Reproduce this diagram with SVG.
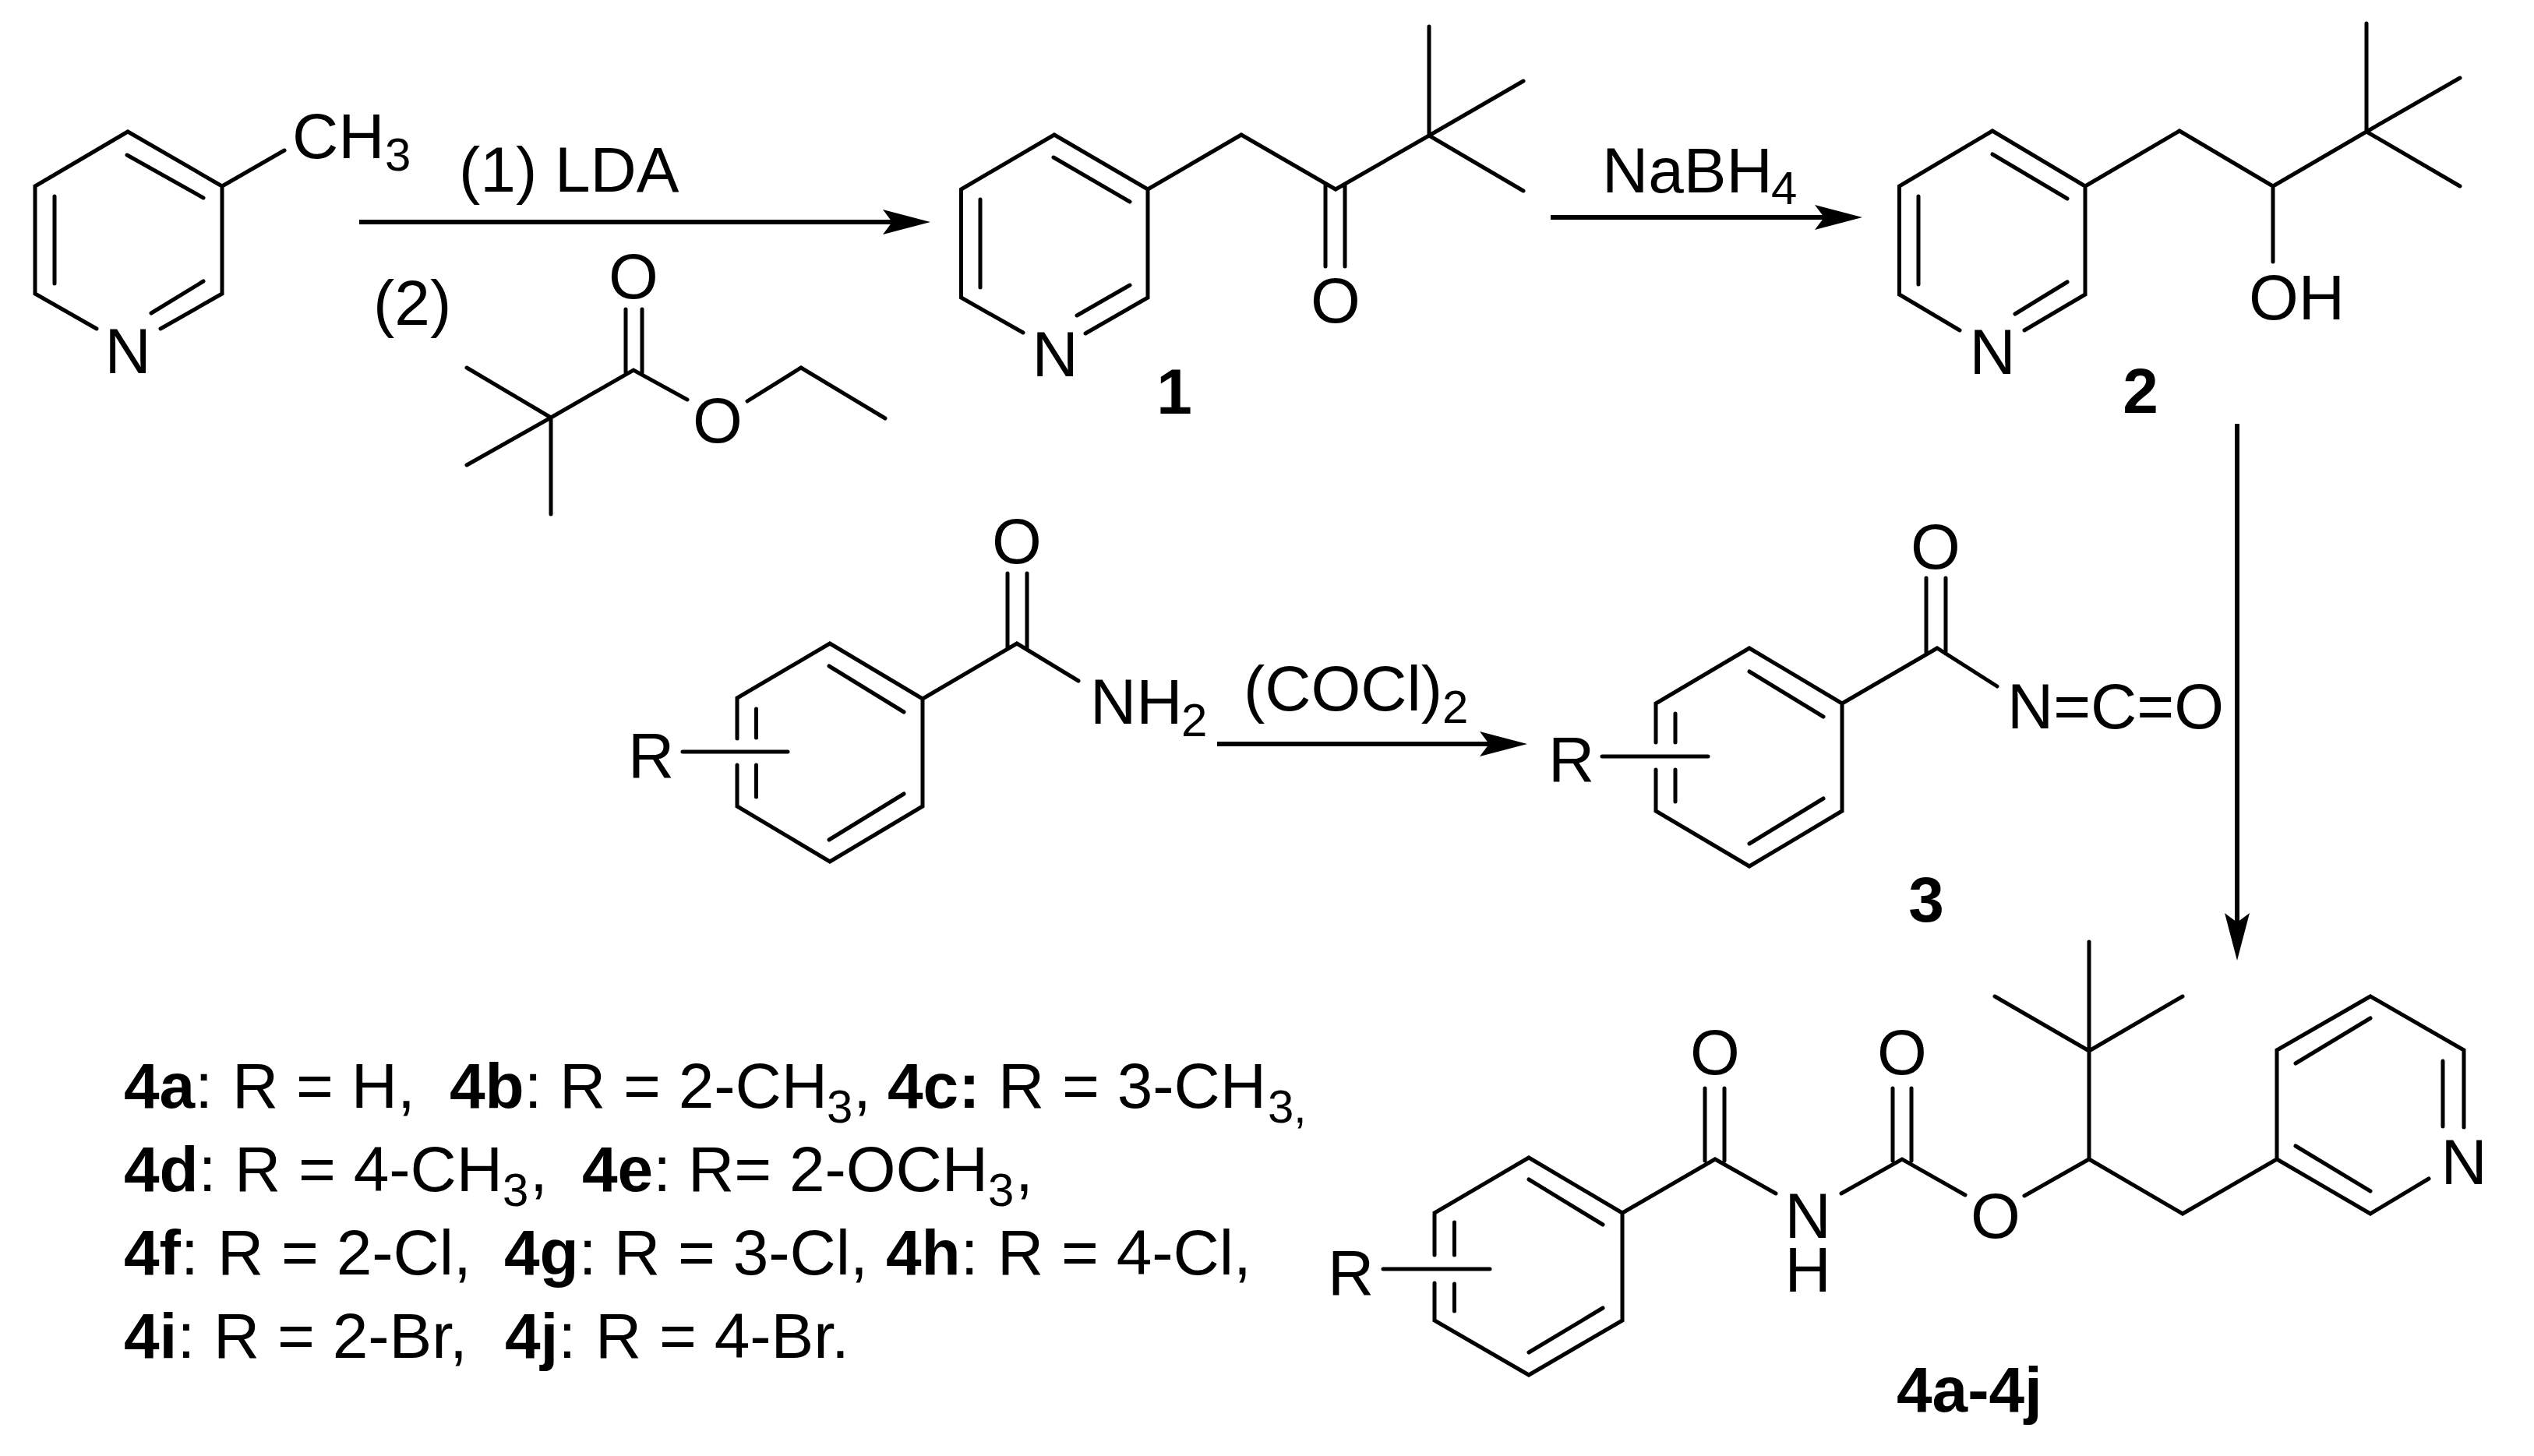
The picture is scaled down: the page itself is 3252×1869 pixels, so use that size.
<svg xmlns="http://www.w3.org/2000/svg" width="3252" height="1869" viewBox="0 0 3252 1869">
<style>
text{font-family:"Liberation Sans",Arial,sans-serif;font-size:82px;fill:#000}
.s{font-size:60px}
.bd{font-weight:bold}
.m{text-anchor:middle}
.bond{fill:none;stroke:#000;stroke-width:5;stroke-linecap:round;stroke-linejoin:miter}
.arrow{fill:none;stroke:#000;stroke-width:6}
</style>
<defs>
<marker id="head" markerUnits="userSpaceOnUse" markerWidth="62" markerHeight="32" viewBox="0 0 61 32" refX="12" refY="16" orient="auto"><polygon points="0,0 61,16 0,32 12,16" fill="#000"/></marker>
</defs>
<rect width="3252" height="1869" fill="#fff"/>
<g id="connectors">
<line class="arrow" x1="461" y1="285" x2="1145" y2="285" marker-end="url(#head)"/>
<line class="arrow" x1="1990" y1="279" x2="2341" y2="279" marker-end="url(#head)"/>
<line class="arrow" x1="1562" y1="955" x2="1911" y2="955" marker-end="url(#head)"/>
<line class="arrow" x1="2871" y1="544" x2="2871" y2="1184" marker-end="url(#head)"/>
</g>
<g id="picoline">
<path class="bond" d="M124,422L45,377V239L164,169L285,239V377L206,422M194,402L261,361M163,199L261,254M70,252V364M285,239L365,193"/>
<text class="m" x="164" y="479">N</text>
<text x="375" y="203">CH</text><text class="s" x="494" y="219">3</text>
</g>
<g id="reagent-lda"><text x="589" y="246">(1) LDA</text></g>
<g id="reagent-ester">
<text x="479" y="417">(2)</text>
<text class="m" x="813" y="383">O</text>
<path class="bond" d="M803,397V478M824,397V478M599,472L707,536L813,475L882,513M599,597L707,536V660M959,515L1028,472L1136,537"/>
<text class="m" x="921" y="568">O</text>
</g>
<g id="compound-1">
<path class="bond" d="M1313,427L1233.500,382V243L1353,173L1473,243V382L1393,428M1382,405L1450,366M1352,202L1450,259M1258,256V369M1473,243L1593,173L1714,243L1834,174L1955,104M1834,34V174L1955,245M1701,237V342M1726,237V342"/>
<text class="m" x="1354" y="483">N</text>
<text class="m" x="1714" y="414">O</text>
<text class="bd m" x="1507" y="531">1</text>
</g>
<g id="reagent-nabh4"><text x="2056" y="247">NaBH</text><text class="s" x="2273" y="262">4</text></g>
<g id="compound-2">
<path class="bond" d="M2515,424L2437.500,378V239L2557,168L2676,239V378L2598,424M2586,403L2653,362M2557,198L2653,255M2462,252V365M2676,239L2797,168L2917,239L3037,169L3157,100M3037,30V169L3157,239M2917,239V336"/>
<text class="m" x="2557" y="480">N</text>
<text x="2886" y="410">OH</text>
<text class="bd m" x="2747" y="530">2</text>
</g>
<g id="benzamide">
<path class="bond" d="M946,948V896L1065,826L1184,897V1035L1065,1106L946,1035V982M1064,855L1160,914M1064,1078L1160,1019M970.500,910V947M970.500,982V1023M1184,897L1305,826L1384,874M1293,736V833M1318,736V833M876,965H1011"/>
<text x="806" y="998">R</text>
<text class="m" x="1305" y="723">O</text>
<text x="1399" y="929">NH</text><text class="s" x="1516" y="945">2</text>
</g>
<g id="reagent-oxalyl"><text x="1596" y="912">(COCl)</text><text class="s" x="1851" y="928">2</text></g>
<g id="compound-3">
<path class="bond" d="M2125,953V903L2245,832L2364,903V1041L2245,1112L2125,1041V988M2245,862L2340,920M2245,1083L2340,1025M2150,916V953M2150,988V1029M2364,903L2486,832L2563,881M2472,742V839M2497,742V839M2056,971H2192"/>
<text x="1987" y="1003">R</text>
<text class="m" x="2484" y="730">O</text>
<text x="2576" y="935">N=C=O</text>
<text class="bd m" x="2472" y="1183">3</text>
</g>
<g id="compound-4">
<path class="bond" d="M1841,1611V1557L1962,1486L2082,1557V1695L1962,1765L1841,1695V1647M1962,1514L2057,1572M1962,1736L2057,1679M1866.500,1569V1611M1866.500,1648V1683M2082,1557L2201,1488L2279,1532M2188,1397V1490M2213,1397V1490M2363,1532L2441,1488L2522,1534M2429,1397V1490M2453,1397V1490M2598,1535L2681,1488L2801,1558L2922,1488V1348L3042,1279L3162,1348V1447M3117,1513L3042,1558L2922,1488M3135,1362V1446M2946,1365L3042,1307M2946,1471L3042,1529M2681,1488V1209M2560,1279L2681,1349L2801,1279M1775,1629H1912"/>
<text x="1704" y="1662">R</text>
<text class="m" x="2201" y="1379">O</text>
<text class="m" x="2441" y="1379">O</text>
<text class="m"><tspan x="2320" y="1589">N</tspan><tspan x="2320" y="1658">H</tspan></text>
<text class="m" x="2561" y="1589">O</text>
<text class="m" x="3162" y="1520">N</text>
<text class="bd" x="2434" y="1812">4a-4j</text>
</g>
<g id="legend">
<text y="1422"><tspan class="bd" x="159">4a</tspan><tspan>:</tspan><tspan x="298">R = H,</tspan><tspan class="bd" x="577">4b</tspan><tspan>:</tspan><tspan x="718">R = 2-CH</tspan></text>
<text class="s" x="1061" y="1441">3</text><text x="1095" y="1422">,</text>
<text y="1422"><tspan class="bd" x="1139">4c:</tspan><tspan x="1281">R = 3-CH</tspan></text>
<text class="s" x="1627" y="1441">3</text><text class="s" x="1660" y="1441">,</text>
<text y="1529"><tspan class="bd" x="159">4d</tspan><tspan>:</tspan><tspan x="301">R = 4-CH</tspan></text>
<text class="s" x="645" y="1548">3</text><text x="680" y="1529">,</text>
<text y="1529"><tspan class="bd" x="747">4e</tspan><tspan>:</tspan><tspan x="883">R= 2-OCH</tspan></text>
<text class="s" x="1268" y="1548">3</text><text x="1303" y="1529">,</text>
<text y="1636"><tspan class="bd" x="159">4f</tspan><tspan>:</tspan><tspan x="279">R = 2-Cl,</tspan><tspan class="bd" x="647">4g</tspan><tspan>:</tspan><tspan x="788">R = 3-Cl,</tspan><tspan class="bd" x="1137">4h</tspan><tspan>:</tspan><tspan x="1280">R = 4-Cl,</tspan></text>
<text y="1743"><tspan class="bd" x="159">4i</tspan><tspan>:</tspan><tspan x="274">R = 2-Br,</tspan><tspan class="bd" x="648">4j</tspan><tspan>:</tspan><tspan x="764">R = 4-Br.</tspan></text>
</g>
</svg>
